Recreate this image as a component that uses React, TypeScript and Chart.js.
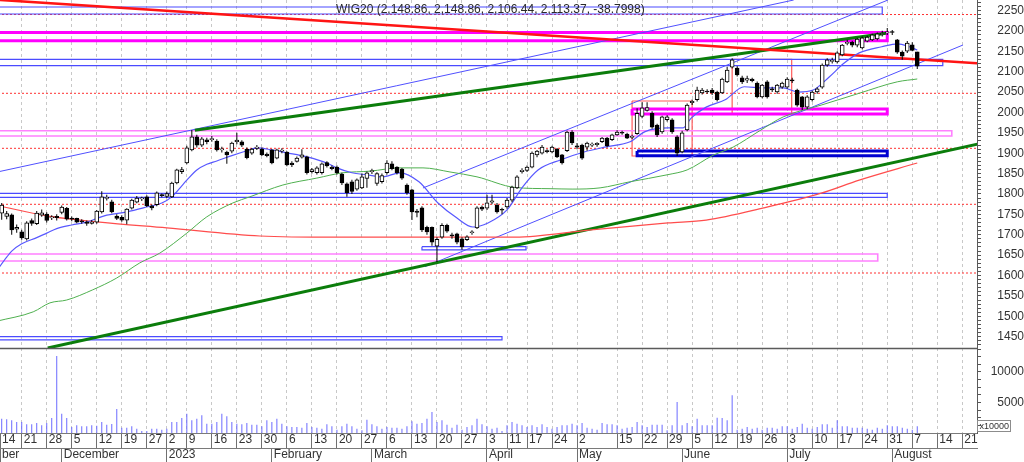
import { useEffect, useRef } from 'react';
import { Chart, registerables } from 'chart.js';

Chart.register(...registerables);
Chart.defaults.font.family = '"Liberation Sans", Arial, sans-serif';

// x = trading-day index: 0 = 14 Nov 2022 ... 184 = 8 Aug 2023
const XMIN = 0.66;
const XMAX = 195.94;
const PMIN = 1422.3;
const PMAX = 2275.7;
const VMAX = 13930;

const TITLE = 'WIG20 (2,148.86, 2,148.86, 2,106.44, 2,113.37, -38.7998)';

const opens = [
  1762, 1753, 1745, 1749, 1714, 1707, 1690, 1735, 1727, 1748,
  1751, 1741, 1745, 1755, 1765, 1741, 1740, 1734, 1732, 1728,
  1731, 1756, 1789, 1781, 1746, 1743, 1736, 1765, 1780, 1788,
  1793, 1771, 1774, 1798, 1794, 1793, 1827, 1855, 1876, 1908,
  1940, 1920, 1933, 1933, 1930, 1908, 1903, 1905, 1928, 1928,
  1910, 1900, 1912, 1910, 1898, 1908, 1888, 1905, 1903, 1876,
  1880, 1890, 1891, 1855, 1852, 1852, 1877, 1866, 1866, 1849,
  1825, 1830, 1812, 1815, 1838, 1855, 1826, 1830, 1852, 1874,
  1866, 1861, 1822, 1810, 1758, 1766, 1718, 1718, 1672, 1694,
  1723, 1700, 1702, 1690, 1688, 1705, 1717, 1768, 1765, 1780,
  1773, 1762, 1768, 1785, 1815, 1855, 1858, 1866, 1896, 1900,
  1906, 1903, 1910, 1896, 1906, 1952, 1918, 1920, 1915, 1920,
  1921, 1928, 1937, 1933, 1945, 1951, 1947, 1939, 1948, 1990,
  2005, 1998, 1969, 1952, 1982, 1982, 1940, 1903, 1957, 2024,
  2031, 2048, 2052, 2055, 2050, 2048, 2075, 2111, 2109, 2085,
  2079, 2082, 2072, 2038, 2075, 2058, 2050, 2062, 2062, 2080,
  2055, 2038, 2013, 2031, 2050, 2062, 2116, 2125, 2124, 2141,
  2169, 2172, 2165, 2158, 2175, 2178, 2180, 2191, 2195, 2198,
  2178, 2148, 2150, 2166, 2148.86,
];
const highs = [
  1776, 1778, 1758, 1752, 1725, 1712, 1733, 1740, 1758, 1762,
  1755, 1748, 1750, 1772, 1768, 1745, 1742, 1738, 1735, 1736,
  1761, 1807, 1798, 1786, 1750, 1748, 1765, 1788, 1795, 1793,
  1797, 1774, 1806, 1801, 1806, 1830, 1862, 1866, 1918, 1957,
  1945, 1940, 1938, 1942, 1934, 1916, 1906, 1928, 1950, 1932,
  1914, 1913, 1920, 1914, 1902, 1910, 1911, 1912, 1905, 1880,
  1892, 1910, 1894, 1864, 1868, 1877, 1880, 1870, 1870, 1852,
  1828, 1835, 1838, 1850, 1855, 1862, 1853, 1850, 1883, 1880,
  1868, 1864, 1826, 1812, 1763, 1770, 1722, 1720, 1694, 1728,
  1727, 1705, 1705, 1694, 1699, 1711, 1770, 1772, 1798, 1798,
  1778, 1766, 1790, 1820, 1846, 1863, 1870, 1904, 1908, 1920,
  1910, 1918, 1913, 1898, 1955, 1956, 1925, 1923, 1928, 1926,
  1927, 1940, 1940, 1948, 1956, 1955, 1950, 1945, 2010, 2025,
  2025, 2003, 1972, 1992, 1993, 1986, 1944, 1955, 2022, 2032,
  2063, 2060, 2057, 2060, 2053, 2085, 2112, 2133, 2113, 2090,
  2090, 2085, 2076, 2070, 2079, 2063, 2070, 2075, 2086, 2085,
  2058, 2040, 2042, 2053, 2062, 2120, 2133, 2134, 2150, 2168,
  2178, 2176, 2183, 2186, 2188, 2193, 2196, 2200, 2207, 2202,
  2180, 2152, 2175, 2172, 2148.86,
];
const lows = [
  1745, 1737, 1738, 1700, 1705, 1688, 1686, 1722, 1724, 1744,
  1730, 1736, 1735, 1750, 1735, 1733, 1728, 1727, 1722, 1725,
  1727, 1752, 1784, 1753, 1736, 1732, 1726, 1762, 1777, 1783,
  1768, 1760, 1770, 1792, 1790, 1790, 1824, 1849, 1873, 1905,
  1914, 1915, 1922, 1928, 1904, 1902, 1874, 1900, 1922, 1915,
  1885, 1896, 1908, 1893, 1890, 1873, 1885, 1900, 1868, 1866,
  1877, 1887, 1848, 1850, 1848, 1848, 1865, 1858, 1848, 1822,
  1793, 1800, 1808, 1812, 1815, 1849, 1820, 1826, 1848, 1858,
  1848, 1835, 1798, 1736, 1743, 1707, 1700, 1673, 1633, 1690,
  1705, 1690, 1677, 1663, 1685, 1700, 1714, 1758, 1761, 1775,
  1752, 1750, 1764, 1780, 1812, 1850, 1854, 1863, 1890, 1897,
  1900, 1900, 1888, 1872, 1903, 1920, 1910, 1884, 1906, 1915,
  1916, 1925, 1914, 1930, 1943, 1945, 1935, 1935, 1945, 1986,
  2002, 1960, 1940, 1948, 1978, 1948, 1893, 1900, 1954, 2018,
  2027, 2044, 2046, 2043, 2027, 2045, 2072, 2108, 2088, 2070,
  2072, 2074, 2035, 2035, 2034, 2050, 2046, 2058, 2058, 2072,
  2014, 2006, 2008, 2027, 2046, 2058, 2112, 2120, 2120, 2138,
  2165, 2160, 2160, 2155, 2172, 2175, 2177, 2186, 2190, 2190,
  2144, 2129, 2146, 2150, 2106.44,
];
const closes = [
  1752, 1773, 1752, 1712, 1718, 1692, 1729, 1728, 1753, 1754,
  1735, 1744, 1742, 1768, 1738, 1738, 1731, 1732, 1728, 1731,
  1758, 1793, 1792, 1756, 1740, 1736, 1763, 1785, 1790, 1790,
  1771, 1766, 1803, 1796, 1801, 1827, 1859, 1860, 1913, 1940,
  1920, 1935, 1928, 1936, 1908, 1911, 1896, 1925, 1932, 1920,
  1889, 1910, 1915, 1896, 1894, 1876, 1908, 1907, 1871, 1872,
  1888, 1896, 1852, 1860, 1864, 1874, 1869, 1862, 1852, 1827,
  1803, 1806, 1835, 1842, 1852, 1857, 1850, 1845, 1876, 1862,
  1852, 1839, 1803, 1756, 1755, 1712, 1707, 1682, 1689, 1723,
  1709, 1697, 1682, 1670, 1695, 1707, 1766, 1763, 1778, 1783,
  1756, 1760, 1785, 1817, 1842, 1858, 1866, 1900, 1905, 1915,
  1904, 1915, 1891, 1876, 1952, 1925, 1915, 1888, 1925, 1922,
  1924, 1937, 1918, 1945, 1952, 1949, 1937, 1941, 1998, 2011,
  2012, 1964, 1945, 1989, 1989, 1952, 1900, 1950, 2018, 2027,
  2055, 2055, 2050, 2048, 2031, 2082, 2104, 2129, 2092, 2075,
  2083, 2078, 2038, 2067, 2038, 2055, 2067, 2072, 2082, 2077,
  2018, 2013, 2038, 2050, 2058, 2116, 2129, 2128, 2146, 2165,
  2172, 2165, 2180, 2183, 2185, 2190, 2193, 2193, 2197, 2196,
  2148, 2138, 2170, 2152.17, 2113.37,
];
// volume, in units of 10000
const volumes = [
  1500, 2350, 2240, 2080, 1800, 1800, 1420, 1420, 1640, 1260,
  1640, 2460, 12620, 3170, 2460, 980, 1260, 1090, 1090, 1260,
  1200, 1800, 1370, 1480, 3930, 870, 870, 1090, 710, 330,
  330, 710, 710, 550, 700, 1800, 1800, 2460, 3170, 2075,
  2350, 2890, 1530, 1530, 1800, 3170, 2730, 1800, 1530, 1420,
  1640, 1365, 1365, 1090, 2075, 1800, 2350, 1530, 1090, 980,
  980, 875, 1640, 980, 875, 710, 1420, 1090, 546, 1090,
  1530, 1090, 710, 437, 2180, 1420, 1090, 710, 980, 875,
  875, 710, 1090, 1910, 1530, 1640, 2350, 3440, 1800, 2075,
  1365, 875, 1365, 546, 980, 1260, 2350, 1420, 1090, 710,
  875, 330, 1260, 1800, 1530, 1260, 980, 1260, 980, 1420,
  980, 710, 980, 1260, 1260, 1530, 1260, 1640, 875, 710,
  546, 1640, 1420, 1420, 1260, 710, 875, 980, 1800, 1260,
  980, 1365, 1365, 1365, 437, 1260, 5080, 1260, 1640, 1090,
  2350, 1260, 1260, 1260, 2510, 2460, 2075, 6170, 546, 710,
  980, 710, 875, 546, 875, 875, 710, 1090, 1090, 710,
  980, 1530, 875, 710, 980, 1420, 1420, 875, 2075, 1090,
  1090, 875, 875, 875, 710, 546, 875, 710, 1260, 1090,
  1090, 875, 710, 546, 1090,
];

// moving averages: [day index, value]
const maFast = [
  [0, 1612], [2, 1645], [3, 1660], [5, 1678], [8, 1693], [10, 1704], [12, 1715], [15, 1724],
  [18, 1731], [20, 1740], [22, 1748], [26, 1756], [30, 1768], [33, 1778], [35, 1793], [37, 1820],
  [38, 1834], [40, 1859], [42, 1873], [44, 1881], [47, 1894], [50, 1906], [52, 1913], [55, 1908],
  [58, 1901], [62, 1891], [66, 1876], [68, 1864], [71, 1852], [74, 1847], [77, 1842], [80.6, 1852],
  [84.4, 1830], [88.2, 1778], [92, 1741], [95.2, 1719], [98.2, 1729], [102, 1761], [105.1, 1817],
  [108.2, 1859], [112.8, 1884], [117.4, 1903], [122, 1916], [126.6, 1928], [129.6, 1953],
  [134.2, 1962], [137.2, 1962], [138.8, 1986], [141.8, 2013], [145.6, 2031], [149.4, 2063],
  [153.3, 2060], [157.2, 2060], [160.2, 2050], [163.2, 2055], [166.4, 2087], [169.4, 2121],
  [172.4, 2146], [176.9, 2161], [180.1, 2168], [182.4, 2161], [184, 2153],
];
const maMid = [
  [0, 1488], [7.3, 1511], [10.65, 1533], [14, 1540], [19.2, 1565], [24, 1594], [28.6, 1631],
  [32.6, 1655], [38, 1704], [42, 1744], [47.2, 1778], [50.6, 1793], [57.2, 1822], [64, 1839],
  [69.2, 1852], [74.6, 1856], [80.6, 1864], [85.2, 1864], [90.6, 1854], [96, 1842], [103.6, 1816],
  [110.6, 1813], [115, 1812], [120.6, 1815], [126.6, 1830], [134, 1847], [138, 1859],
  [143.2, 1895], [147.2, 1915], [152.5, 1955], [157.2, 1989], [164.8, 2018], [172.4, 2047],
  [180, 2075], [184, 2082],
];
const maSlow = [
  [0, 1772], [10.65, 1745], [20.6, 1731], [34, 1717], [52.6, 1697], [68, 1694], [80.6, 1694],
  [103.6, 1694], [118.8, 1712], [134.2, 1729], [141.8, 1736], [153.3, 1766], [164.8, 1802],
  [172.4, 1834], [184, 1876],
];

// drawn objects: [x0, price0, x1, price1]
const blueBoxes = [
  [-2, 2258.5, 177, 2241.4],
  [-2, 2130.3, 189.1, 2114.6],
  [-2, 1801.7, 178, 1791.9],
  [85, 1670.7, 105.8, 1662.7],
  [-2, 1450.1, 101, 1442.0],
];
const navyBoxes = [[128, 1905.4, 178, 1893.9]];
const magentaBoxes = [[-2, 2196, 178, 2175.9], [127, 2008.4, 178, 1996.2]];
const pinkBoxes = [[-2, 1955.2, 190.9, 1942.2], [-2, 1652.8, 176.1, 1635.7]];
const redBoxes = [[127, 2028, 139, 1893.2], [147, 2130.3, 158.9, 1996.2]];
const dottedLevels = [2240.1, 2046.9, 1912.0, 1774.7, 1606.2];
const blueTrends = [
  [-2, 1848.3, 159.3, 2275.7],
  [85.2, 1814.7, 178.15, 2275.7],
  [85.6, 1621.7, 193.15, 2165.4],
];
const redTrends = [[-2, 2277.8, 197, 2119.6]];
const greenTrends = [
  [39.6, 1956.2, 177.75, 2194.0],
  [10.2, 1422.3, 197, 1924.9],
];

// axis labels
const priceLabels = [1450, 1500, 1550, 1600, 1650, 1700, 1750, 1800, 1850, 1900, 1950, 2000, 2050, 2100, 2150, 2200, 2250];
const volumeLabels = [5000, 10000];
const dayTicks: [number, string][] = [
  [XMIN, '14'], [5, '21'], [10, '28'], [15, '5'], [20, '12'], [25, '19'], [30, '27'],
  [34, '2'], [38, '9'], [43, '16'], [48, '23'], [53, '30'], [58, '6'], [63, '13'], [68, '20'], [73, '27'],
  [78, '6'], [83, '13'], [88, '20'], [93, '27'], [98, '3'], [102, '11'], [106, '17'], [111, '24'],
  [116, '2'], [124, '15'], [129, '22'], [134, '29'], [139, '5'], [143, '12'], [148, '19'], [153, '26'],
  [158, '3'], [163, '10'], [168, '17'], [173, '24'], [178, '31'], [183, '7'], [188, '14'], [193, '21'],
];
const monthTicks: [number, string][] = [
  [XMIN, 'ber'], [13, 'December'], [34, '2023'], [55, 'February'], [75, 'March'], [98, 'April'],
  [116, 'May'], [137, 'June'], [158, 'July'], [179, 'August'],
];

const FONT = { family: '"Liberation Sans", Arial, sans-serif', size: 12 };

const pts = (a: number[][]) => a.map(([x, y]) => ({ x, y }));
const boxPts = ([x0, y0, x1, y1]: number[]) => pts([[x0, y0], [x1, y0], [x1, y1], [x0, y1], [x0, y0]]);
const segPts = ([x0, y0, x1, y1]: number[]) => pts([[x0, y0], [x1, y1]]);

function lineSet(data: any[], color: string, width: number, extra: any = {}) {
  return {
    type: 'line',
    data,
    borderColor: color,
    borderWidth: width,
    pointRadius: 0,
    fill: false,
    tension: 0,
    yAxisID: 'y',
    ...extra,
  };
}

const paneDecor = {
  id: 'paneDecor',
  afterDraw(chart: any) {
    const { ctx, chartArea, scales } = chart;
    ctx.save();
    const sep = Math.round(scales.y.bottom) + 0.5;
    ctx.strokeStyle = '#5a5a5a';
    ctx.lineWidth = 1.5;
    ctx.beginPath();
    ctx.moveTo(chartArea.left, sep);
    ctx.lineTo(chartArea.right, sep);
    ctx.stroke();

    ctx.font = '12px "Liberation Sans", Arial, sans-serif';
    ctx.fillStyle = '#2a2a2a';
    ctx.textBaseline = 'middle';
    ctx.textAlign = 'left';
    ctx.fillText(TITLE, chartArea.left + 336, chartArea.top + 10);

    const v = scales.yv;
    const bx = Math.round(v.left) + 0.5;
    const by = Math.round(v.bottom) - 12.5;
    ctx.strokeStyle = '#8c8c8c';
    ctx.lineWidth = 1;
    ctx.strokeRect(bx, by, 33, 11);
    ctx.font = '9px "Liberation Sans", Arial, sans-serif';
    ctx.fillStyle = '#333';
    ctx.fillText('x10000', bx + 2, by + 6);
    ctx.restore();
  },
};

export default function App() {
  const canvasRef = useRef<HTMLCanvasElement | null>(null);

  useEffect(() => {
    const canvas = canvasRef.current;
    if (!canvas) return;

    const dayMap = new Map(dayTicks);
    const monthMap = new Map(monthTicks);

    const datasets: any[] = [
      {
        type: 'bar',
        data: opens.map((o, i) => ({ x: i, y: [o, closes[i]] })),
        backgroundColor: opens.map((o, i) => (closes[i] >= o ? '#ffffff' : '#000000')),
        borderColor: '#000000',
        borderWidth: 1,
        borderSkipped: false,
        barThickness: 4,
        minBarLength: 1,
        grouped: false,
        yAxisID: 'y',
      },
      {
        type: 'bar',
        data: lows.map((l, i) => ({ x: i, y: [l, highs[i]] })),
        backgroundColor: '#000000',
        borderWidth: 0,
        barThickness: 1,
        inflateAmount: 0,
        grouped: false,
        yAxisID: 'y',
      },
      {
        type: 'bar',
        data: volumes.map((v, i) => ({ x: i, y: v })),
        backgroundColor: '#6b6bff',
        borderWidth: 0,
        barThickness: 1,
        inflateAmount: 0,
        grouped: false,
        yAxisID: 'yv',
      },
      lineSet(pts(maFast), '#5858ff', 1.2, { cubicInterpolationMode: 'monotone' }),
      lineSet(pts(maMid), '#4fb04f', 1, { cubicInterpolationMode: 'monotone' }),
      lineSet(pts(maSlow), '#ff4d4d', 1.2, { cubicInterpolationMode: 'monotone' }),
      ...redTrends.map((s) => lineSet(segPts(s), '#ff1414', 2.6)),
      ...greenTrends.map((s) => lineSet(segPts(s), '#0b7d0b', 3)),
      ...blueTrends.map((s) => lineSet(segPts(s), '#5050ff', 1)),
      ...magentaBoxes.map((b) => lineSet(boxPts(b), '#ff00ff', 3)),
      ...navyBoxes.map((b) => lineSet(boxPts(b), '#0000d0', 3)),
      ...blueBoxes.map((b) => lineSet(boxPts(b), '#4b4bff', 1.2)),
      ...pinkBoxes.map((b) => lineSet(boxPts(b), '#ff80ff', 1.6)),
      ...redBoxes.map((b) => lineSet(boxPts(b), '#ff5a5a', 1.2)),
      ...dottedLevels.map((p) => lineSet(segPts([XMIN - 2, p, XMAX + 2, p]), '#ff3030', 1, { borderDash: [2, 2] })),
    ];

    const chart = new Chart(canvas, {
      type: 'bar',
      data: { datasets },
      options: {
        animation: false,
        responsive: false,
        events: [],
        layout: { padding: 0 },
        plugins: { legend: { display: false }, tooltip: { enabled: false }, title: { display: false } },
        scales: {
          x: {
            type: 'linear',
            position: 'bottom',
            min: XMIN,
            max: XMAX,
            bounds: 'data',
            offset: false,
            afterBuildTicks: (s: any) => { s.ticks = dayTicks.map(([v]) => ({ value: v })); },
            afterFit: (s: any) => { s.height = 15; s.paddingLeft = 0; s.paddingRight = 0; },
            ticks: {
              autoSkip: false,
              maxRotation: 0,
              align: 'start',
              labelOffset: 2,
              padding: -15.7,
              color: '#333',
              font: FONT,
              callback: (v: any) => dayMap.get(v) ?? '',
            },
            grid: {
              offset: false,
              color: (c: any) => (c.tick && c.tick.value === XMIN ? 'rgba(0,0,0,0)' : '#c8c8c8'),
              tickColor: '#707070',
              tickLength: 15,
            },
            border: { color: '#7a7a7a', dash: [3, 3] },
          },
          x2: {
            type: 'linear',
            position: 'bottom',
            min: XMIN,
            max: XMAX,
            bounds: 'data',
            offset: false,
            afterBuildTicks: (s: any) => { s.ticks = monthTicks.map(([v]) => ({ value: v })); },
            afterFit: (s: any) => { s.height = 14; s.paddingLeft = 0; s.paddingRight = 0; },
            ticks: {
              autoSkip: false,
              maxRotation: 0,
              align: 'start',
              labelOffset: 2,
              padding: -14.2,
              color: '#333',
              font: FONT,
              callback: (v: any) => monthMap.get(v) ?? '',
            },
            grid: { offset: false, drawOnChartArea: false, tickColor: '#707070', tickLength: 14 },
            border: { color: '#7a7a7a' },
          },
          y: {
            type: 'linear',
            position: 'right',
            stack: 'pane',
            stackWeight: 348,
            min: PMIN,
            max: PMAX,
            bounds: 'data',
            afterBuildTicks: (s: any) => {
              const t = [];
              for (let v = 1430; v <= 2270; v += 10) t.push({ value: v });
              s.ticks = t;
            },
            afterFit: (s: any) => { s.width = 47; s.paddingTop = 0; s.paddingBottom = 0; },
            ticks: {
              autoSkip: false,
              crossAlign: 'far',
              padding: 13,
              color: '#333',
              font: FONT,
              callback: (v: any) => (priceLabels.includes(v) ? String(v) : ''),
            },
            grid: { drawOnChartArea: false, tickColor: '#555', tickLength: 4 },
            border: { color: '#5a5a5a' },
          },
          yv: {
            type: 'linear',
            position: 'right',
            stack: 'pane',
            stackWeight: 85,
            min: 0,
            max: VMAX,
            bounds: 'data',
            afterBuildTicks: (s: any) => {
              const t = [];
              for (let v = 1250; v < VMAX; v += 1250) t.push({ value: v });
              s.ticks = t;
            },
            afterFit: (s: any) => { s.width = 47; s.paddingTop = 0; s.paddingBottom = 0; },
            ticks: {
              autoSkip: false,
              crossAlign: 'far',
              padding: 6.6,
              color: '#333',
              font: FONT,
              callback: (v: any) => (volumeLabels.includes(v) ? String(v) : ''),
            },
            grid: { drawOnChartArea: false, tickColor: '#555', tickLength: 4 },
            border: { color: '#5a5a5a' },
          },
        },
      } as any,
      plugins: [paneDecor],
    });

    return () => {
      chart.destroy();
    };
  }, []);

  return (
    <div style={{ position: 'fixed', left: 0, top: 0, width: 1024, height: 462, background: '#ffffff' }}>
      <canvas ref={canvasRef} width={1024} height={462} style={{ display: 'block', width: 1024, height: 462 }} />
    </div>
  );
}
